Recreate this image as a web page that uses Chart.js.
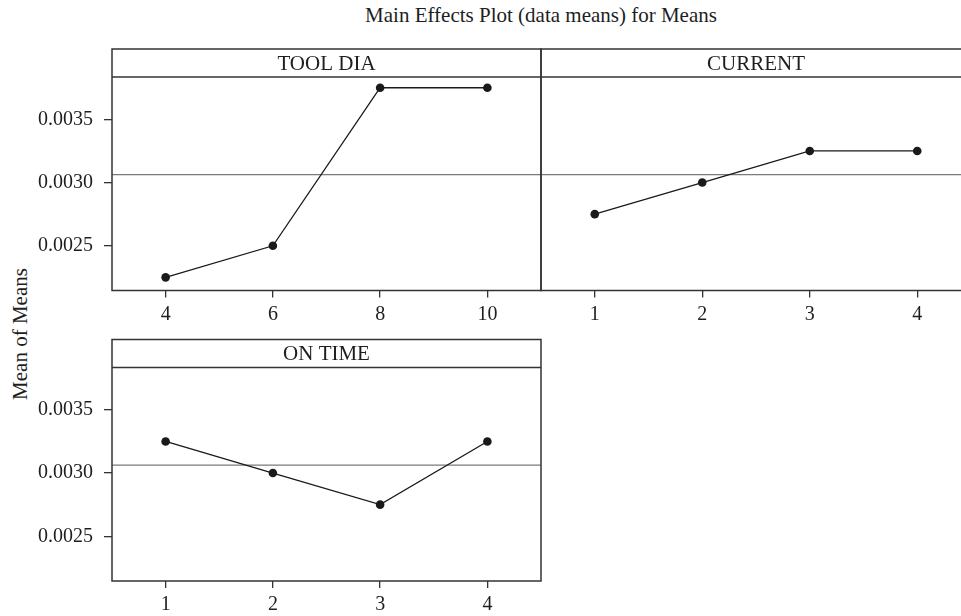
<!DOCTYPE html>
<html>
<head>
<meta charset="utf-8">
<script src="https://cdn.jsdelivr.net/npm/chart.js@4.4.1/dist/chart.umd.min.js"></script>
<style>
  html, body { margin: 0; padding: 0; width: 961px; height: 616px; overflow: hidden; background: #fff; }
  .panel { position: absolute; }
  #title { position: absolute; left: 0; width: 1082px; top: 3px; text-align: center;
           font: 21px "Liberation Serif", serif; color: #1e1e1e; }
  #ylabel { position: absolute; left: 20px; top: 334px; transform: translate(-50%, -50%) rotate(-90deg);
            font: 21px "Liberation Serif", serif; color: #1e1e1e; white-space: nowrap; }
</style>
</head>
<body>
<div id="title">Main Effects Plot (data means) for Means</div>
<div id="ylabel">Mean of Means</div>
<div class="panel" style="left:0;top:0;width:560px;height:330px"><canvas id="toolDia"></canvas></div>
<div class="panel" style="left:500px;top:0;width:500px;height:330px"><canvas id="current"></canvas></div>
<div class="panel" style="left:0;top:291px;width:560px;height:325px"><canvas id="onTime"></canvas></div>
<script>
// factor levels and means
var toolDiaLevels = ["4", "6", "8", "10"];
var toolDiaMeans = [0.00225, 0.00250, 0.00375, 0.00375];

var currentLevels = ["1", "2", "3", "4"];
var currentMeans = [0.00275, 0.00300, 0.00325, 0.00325];

var onTimeLevels = ["1", "2", "3", "4"];
var onTimeMeans = [0.00325, 0.00300, 0.00275, 0.00325];

var yTicks = [0.0025, 0.0030, 0.0035];
var yMin = 0.002146, yMax = 0.003835;

var grandMean = toolDiaMeans.reduce(function(a, b) { return a + b; }, 0) / toolDiaMeans.length;

var serif = "'Liberation Serif', serif";
var ink = "#1a1a1a";

// strip header, frame and grand-mean line
var panelFrame = {
    id: "panelFrame",
    beforeDatasetsDraw: function(chart) {
        var a = chart.chartArea, ctx = chart.ctx;
        var y = chart.scales.y.getPixelForValue(grandMean);
        ctx.save();
        ctx.strokeStyle = "#7a7a7a";
        ctx.lineWidth = 1.3;
        ctx.beginPath();
        ctx.moveTo(a.left, y);
        ctx.lineTo(a.right, y);
        ctx.stroke();
        ctx.restore();
    },
    afterDraw: function(chart) {
        var a = chart.chartArea, ctx = chart.ctx;
        var h = 28;
        ctx.save();
        ctx.strokeStyle = "#333";
        ctx.lineWidth = 1.5;
        ctx.strokeRect(a.left, a.top - h, a.right - a.left, a.bottom - a.top + h);
        ctx.beginPath();
        ctx.moveTo(a.left, a.top);
        ctx.lineTo(a.right, a.top);
        ctx.stroke();
        ctx.fillStyle = "#1e1e1e";
        ctx.font = "21px " + serif;
        ctx.textAlign = "center";
        ctx.textBaseline = "middle";
        ctx.fillText(chart.options.plugins.panelFrame.label, (a.left + a.right) / 2, a.top - h / 2 + 1);
        ctx.restore();
    }
};

function constructPanel(elem, label, levels, means, opts) {
    return new Chart(elem, {
        type: "line",
        data: {
            labels: levels,
            datasets: [{
                data: means,
                borderColor: ink,
                borderWidth: 1.3,
                pointRadius: 4.3,
                pointBackgroundColor: ink,
                pointBorderColor: ink,
                pointBorderWidth: 0,
                tension: 0
            }]
        },
        options: {
            responsive: true,
            maintainAspectRatio: false,
            animation: false,
            layout: { padding: opts.padding },
            plugins: {
                legend: { display: false },
                tooltip: { enabled: false },
                panelFrame: { label: label }
            },
            scales: {
                x: {
                    type: "category",
                    offset: true,
                    border: { display: false },
                    grid: { offset: false, drawOnChartArea: false, drawTicks: true, tickLength: 7, color: "#333", lineWidth: 1.3 },
                    ticks: { color: "#1e1e1e", font: { family: serif, size: 20 }, padding: 5, maxRotation: 0 },
                    afterFit: function(s) { s.height = opts.xHeight; }
                },
                y: {
                    display: opts.showY,
                    min: yMin,
                    max: yMax,
                    border: { display: false },
                    grid: { drawOnChartArea: false, drawTicks: true, tickLength: 8, color: "#333", lineWidth: 1.3 },
                    afterBuildTicks: function(s) { s.ticks = yTicks.map(function(v) { return { value: v }; }); },
                    ticks: {
                        color: "#1e1e1e",
                        font: { family: serif, size: 20 },
                        padding: 11,
                        callback: function(v) { return v.toFixed(4); }
                    },
                    afterFit: function(s) { s.width = opts.showY ? 112 : 0; }
                }
            }
        },
        plugins: [panelFrame]
    });
}

constructPanel(document.getElementById("toolDia"), "TOOL DIA", toolDiaLevels, toolDiaMeans,
    { padding: { top: 77, right: 19, left: 0, bottom: 0 }, xHeight: 39.5, showY: true });
constructPanel(document.getElementById("current"), "CURRENT", currentLevels, currentMeans,
    { padding: { top: 77, right: 29, left: 41, bottom: 0 }, xHeight: 39.5, showY: false });
constructPanel(document.getElementById("onTime"), "ON TIME", onTimeLevels, onTimeMeans,
    { padding: { top: 76.5, right: 19, left: 0, bottom: 0 }, xHeight: 35, showY: true });
</script>
</body>
</html>
